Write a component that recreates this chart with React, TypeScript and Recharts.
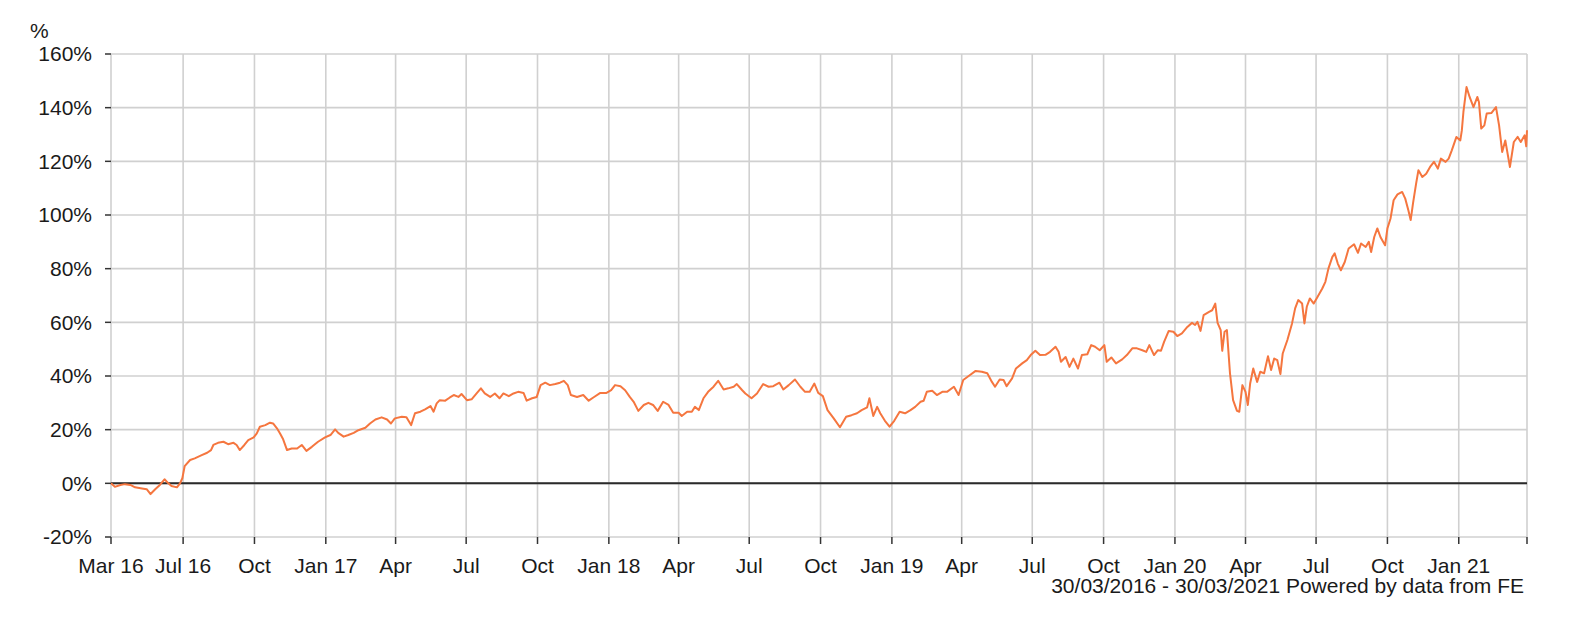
import React from "react";
import { LineChart, Line, XAxis, YAxis, CartesianGrid, ReferenceLine } from "recharts";

const startDate = "2016-03-30";
const endDate = "2021-03-30";

const tickDates = [
  "2016-03-30", "2016-07-01", "2016-10-01", "2017-01-01", "2017-04-01", "2017-07-01",
  "2017-10-01", "2018-01-01", "2018-04-01", "2018-07-01", "2018-10-01", "2019-01-01",
  "2019-04-01", "2019-07-01", "2019-10-01", "2020-01-01", "2020-04-01", "2020-07-01",
  "2020-10-01", "2021-01-01", "2021-03-30",
];
const tickLabels = [
  "Mar 16", "Jul 16", "Oct", "Jan 17", "Apr", "Jul", "Oct", "Jan 18", "Apr", "Jul", "Oct",
  "Jan 19", "Apr", "Jul", "Oct", "Jan 20", "Apr", "Jul", "Oct", "Jan 21", "",
];
const yTicks = [-20, 0, 20, 40, 60, 80, 100, 120, 140, 160];

// days since 30/03/2016
const days = [
  0, 5, 12, 18, 25, 31, 40, 46, 51, 57, 63, 69, 74, 78, 85, 89, 92, 95, 102, 108, 117, 124, 129, 132,
  138, 145, 151, 158, 162, 166, 172, 177, 184, 188, 192, 199, 205, 209, 214, 218, 222, 227, 233, 240,
  246, 252, 259, 267, 276, 283, 289, 293, 300, 306, 313, 319, 328, 334, 341, 349, 356, 361, 366, 375,
  381, 387, 392, 399, 405, 412, 416,
  420, 424, 431, 437, 442, 448, 452, 459, 465, 472, 477, 482, 489, 495, 501, 506, 513, 519, 525, 532,
  536, 543, 549, 554, 560, 566, 573, 579, 584, 589, 593, 601, 609, 616, 622, 631, 639, 645, 650, 657,
  663, 669, 674, 680, 687, 693, 699, 705, 712, 719, 725, 732, 736, 743, 749, 753, 758, 764, 770, 777,
  783, 790, 796, 803, 807, 814,
  818, 826, 833, 841, 848, 854, 862, 867, 874, 882, 889, 895, 901, 907, 912, 918, 924, 932, 940, 948,
  955, 962, 968, 975, 978, 983, 988, 992, 998, 1004, 1010, 1017, 1024, 1031, 1037, 1044, 1048, 1052,
  1059, 1065, 1072, 1078, 1087, 1093, 1099, 1106, 1115, 1123, 1130, 1136, 1140, 1146, 1151, 1155, 1162,
  1167, 1175, 1181, 1186, 1192, 1198,
  1205, 1211, 1218, 1222, 1225, 1231, 1236, 1241, 1247, 1252, 1259, 1264, 1269, 1275, 1281, 1284, 1290,
  1296, 1304, 1310, 1317, 1323, 1330, 1335, 1339, 1345, 1350, 1354, 1358, 1364, 1370, 1375, 1381, 1388,
  1394, 1398, 1401, 1405, 1409, 1416, 1420, 1424, 1427, 1431, 1433, 1436, 1439, 1443, 1447, 1452, 1455,
  1459, 1463, 1466,
  1469, 1473, 1478, 1482, 1487, 1492, 1496, 1500, 1504, 1508, 1511, 1517, 1523, 1527, 1531, 1536, 1539,
  1542, 1546, 1551, 1556, 1562, 1566, 1570, 1575, 1578, 1582, 1586, 1591, 1596, 1603, 1608, 1612, 1618,
  1622, 1625, 1629, 1633, 1637, 1643, 1646, 1650, 1654, 1659, 1665, 1669, 1673, 1676, 1679, 1683, 1686,
  1691, 1696, 1701, 1706, 1711, 1715, 1721, 1725, 1729, 1735, 1740, 1742, 1744, 1748, 1752, 1757, 1762,
  1764, 1767, 1771, 1774, 1780, 1786, 1790, 1794, 1798, 1804, 1809, 1814, 1818, 1823, 1825, 1826,
];

// cumulative return, %
const returns = [
  0, -1.3, -0.6, -0.3, -0.6, -1.5, -1.9, -2.2, -4.0, -2.2, -0.6, 1.5, 0, -1.0, -1.5, 0, 1.9, 6.4, 8.7, 9.3,
  10.5, 11.4, 12.4, 14.3, 15.1, 15.5, 14.6, 15.1, 14.3, 12.4, 14.3, 16.1, 17.1, 18.6, 21.1, 21.7, 22.6,
  22.3, 20.5, 18.6, 16.4, 12.4, 13.0, 13.0, 14.3, 12.1, 13.6, 15.5, 17.1, 18.0, 20.1, 18.8, 17.4, 18.0,
  18.8, 19.8, 20.7, 22.3, 23.8, 24.6, 23.8, 22.3, 24.2, 24.8, 24.6, 21.7, 26.1, 26.7, 27.6, 28.8, 26.7,
  29.8, 31.0, 30.8, 32.0, 32.9, 32.2, 33.3, 31.0, 31.3, 33.7, 35.4, 33.5, 32.2, 33.5, 31.7, 33.5, 32.5,
  33.5, 34.1, 33.7, 30.8, 31.7, 32.2, 36.6, 37.5, 36.6, 37.0, 37.5, 38.2, 36.6, 32.9, 32.2, 32.9, 30.8,
  32.0, 33.7, 33.7, 34.7, 36.6, 36.2, 34.7, 32.2, 30.4, 27.0, 29.2, 30.0, 29.2, 27.0, 30.4, 29.2, 26.3,
  26.3, 25.1, 26.7, 26.7, 28.5, 27.3, 31.7, 34.1, 36.0, 38.2, 35.0, 35.4, 36.0, 37.0, 34.7,
  33.5, 31.7, 33.5, 37.0, 36.0, 36.2, 37.5, 35.0, 36.6, 38.7, 36.0, 34.1, 34.1, 37.2, 33.7, 32.5, 27.3,
  24.2, 20.9, 24.8, 25.4, 26.1, 27.3, 28.3, 31.7, 25.1, 28.5, 26.1, 23.3, 21.1, 23.3, 26.7, 26.1, 27.3,
  28.5, 30.4, 30.8, 34.1, 34.5, 32.9, 34.1, 34.1, 36.0, 32.9, 38.5, 40.0, 41.9, 41.6, 41.0, 37.8, 36.0,
  38.7, 38.5, 36.2, 39.1, 42.8, 44.7, 45.9, 47.8, 49.4, 47.8,
  47.9, 49.0, 50.9, 49.0, 45.3, 47.1, 43.4, 46.5, 42.8, 47.8, 48.1, 51.5, 50.9, 49.6, 51.5, 45.3, 46.9,
  44.7, 46.2, 47.8, 50.3, 50.3, 49.6, 49.0, 51.5, 47.8, 49.6, 49.4, 52.7, 56.8, 56.5, 54.9, 55.9, 58.3,
  59.8, 59.0, 60.2, 56.8, 62.7, 63.9, 64.5, 67.0, 59.8, 57.1, 49.4, 56.5, 57.1, 41.0, 31.0, 27.0, 26.7,
  36.6, 34.1, 29.2,
  37.2, 42.8, 37.8, 41.6, 41.0, 47.4, 42.2, 46.5, 45.9, 40.7, 48.4, 53.4, 59.6, 65.2, 68.3, 67.0, 59.6,
  65.8, 68.9, 67.0, 69.5, 72.6, 75.1, 80.1, 84.4, 85.7, 81.9, 79.4, 82.5, 87.5, 89.1, 85.9, 89.4, 88.1,
  90.0, 86.2, 91.8, 95.0, 91.8, 88.7, 95.0, 98.7, 105.5, 107.7, 108.6, 106.1, 101.8, 98.1, 104.3, 111.7,
  116.7, 114.2, 115.4, 117.9, 119.8, 117.3, 121.0, 119.8, 121.0, 124.1, 129.1, 127.8, 131.6, 138.4,
  147.7, 144.0, 140.2, 144.0, 142.1, 132.2, 133.4, 137.8, 138.0, 140.2, 133.4, 123.5, 127.8, 117.9,
  127.2, 129.1, 127.2, 129.7, 125.6, 131.6,
];

const dayOf = (s: string) =>
  Math.round((Date.parse(s + "T00:00:00Z") - Date.parse(startDate + "T00:00:00Z")) / 86400000);

const tickDays = tickDates.map(dayOf);
const endDay = dayOf(endDate);
const labelByDay: Record<number, string> = {};
tickDays.forEach((d, i) => (labelByDay[d] = tickLabels[i]));

const data = days.map((d, i) => ({ day: d, value: returns[i] }));

const FONT = "'Liberation Sans', Arial, Helvetica, sans-serif";
const TEXT = "#1a1a1a";

export default function App() {
  return (
    <div style={{ position: "relative", width: 1568, height: 608, fontFamily: FONT }}>
      <LineChart
        width={1568}
        height={608}
        data={data}
        margin={{ top: 46, right: 49, bottom: 49, left: 0 }}
      >
        <CartesianGrid stroke="#d0d0d0" strokeWidth={1.6} />
        <XAxis
          dataKey="day"
          type="number"
          domain={[0, endDay]}
          ticks={tickDays}
          interval={0}
          height={30}
          axisLine={false}
          tickLine={{ stroke: "#333", strokeWidth: 1.5 }}
          tickSize={7}
          tickMargin={14}
          tick={{ fill: TEXT, fontSize: 21, fontFamily: FONT }}
          tickFormatter={(v: number) => labelByDay[v] ?? ""}
        />
        <YAxis
          type="number"
          domain={[-20, 160]}
          ticks={yTicks}
          interval={0}
          width={103}
          axisLine={false}
          tickLine={{ stroke: "#333", strokeWidth: 1.5 }}
          tickSize={6}
          tickMargin={13}
          tick={{ fill: TEXT, fontSize: 21, fontFamily: FONT }}
          tickFormatter={(v: number) => `${v}%`}
        />
        <ReferenceLine y={0} stroke="#2a2a2a" strokeWidth={2} />
        <Line
          type="linear"
          dataKey="value"
          stroke="#f5763f"
          strokeWidth={2}
          strokeLinejoin="round"
          dot={false}
          isAnimationActive={false}
        />
      </LineChart>
      <svg
        width={1568}
        height={608}
        style={{ position: "absolute", left: 0, top: 0, pointerEvents: "none" }}
      >
        <text x={22} y={30} fontSize={21} fontFamily={FONT} fill={TEXT}>
          %
        </text>
        <text x={1516} y={585} fontSize={21} fontFamily={FONT} fill={TEXT} textAnchor="end">
          30/03/2016 - 30/03/2021 Powered by data from FE
        </text>
      </svg>
    </div>
  );
}
